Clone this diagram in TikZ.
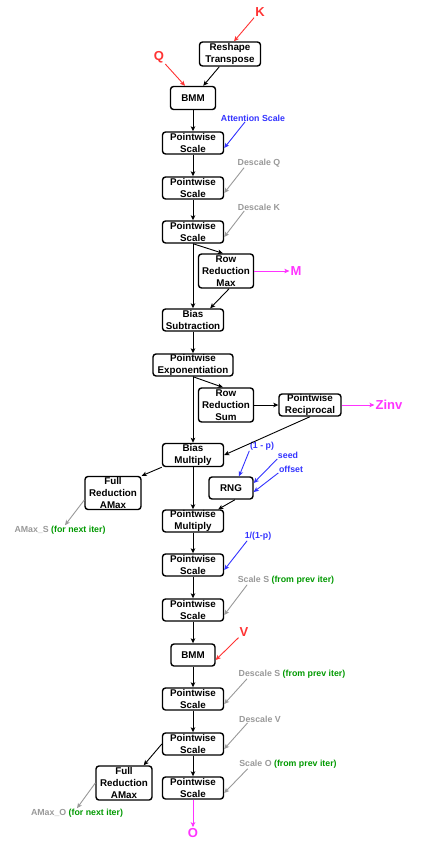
\documentclass[tikz,border=0pt]{standalone}
\usepackage{fontspec}
\setmainfont{Liberation Sans}
\usetikzlibrary{positioning,arrows.meta}
\definecolor{inred}{HTML}{FF3333}
\definecolor{inblue}{HTML}{3333FF}
\definecolor{ingray}{HTML}{999999}
\definecolor{ingreen}{HTML}{009900}
\definecolor{outpink}{HTML}{FF33FF}

\begin{document}
\begin{tikzpicture}[x=1pt,y=1pt,node distance=45pt,on grid,
  op/.style={draw,line width=1.4pt,rounded corners=3pt,fill=white,align=center,
    inner sep=0pt,font=\fontsize{9.8}{11.7}\selectfont\bfseries,
    minimum width=61pt,minimum height=22pt},
  tall/.style={op,minimum width=55pt,minimum height=34pt},
  io/.style={font=\fontsize{13}{15}\selectfont\bfseries,inner sep=1pt},
  note/.style={font=\fontsize{8.8}{10}\selectfont\bfseries,inner sep=0.5pt},
  >={Stealth[length=5pt,width=4.5pt,inset=1.2pt]},
  every edge/.style={draw,line width=0.9pt}]
  \useasboundingbox (0,0) rectangle (434,-846);
  \node[op,minimum width=45pt,minimum height=23pt] (bmm1) at (193,-98) {BMM};
  \node[op,minimum height=24pt] (rt) [above right=44pt and 37pt of bmm1] {Reshape\\Transpose};
  \node[op] (ps1) [below=of bmm1] {Pointwise\\Scale};
  \node[op] (ps2) [below=of ps1] {Pointwise\\Scale};
  \node[op] (ps3) [below=44pt of ps2] {Pointwise\\Scale};
  \node[tall] (rrm) [below right=39pt and 33pt of ps3] {Row\\Reduction\\Max};
  \node[op] (bs) [below=88pt of ps3] {Bias\\Subtraction};
  \node[op,minimum width=80pt] (exp) [below=of bs] {Pointwise\\Exponentiation};
  \node[tall] (rrs) [below right=40pt and 33pt of exp] {Row\\Reduction\\Sum};
  \node[op,minimum width=62pt] (rec) [right=84pt of rrs] {Pointwise\\Reciprocal};
  \node[op,minimum height=23pt] (bm) [below=90pt of exp] {Bias\\Multiply};
  \node[tall,minimum width=56pt,minimum height=33pt] (fra1) [below left=38pt and 80pt of bm] {Full\\Reduction\\AMax};
  \node[op,minimum width=44pt] (rng) [below right=33pt and 38pt of bm] {RNG};
  \node[op] (pm) [below=66pt of bm] {Pointwise\\Multiply};
  \node[op] (ps4) [below=44pt of pm] {Pointwise\\Scale};
  \node[op] (ps5) [below=of ps4] {Pointwise\\Scale};
  \node[op,minimum width=44pt] (bmm2) [below=of ps5] {BMM};
  \node[op] (ps6) [below=44pt of bmm2] {Pointwise\\Scale};
  \node[op] (ps7) [below=of ps6] {Pointwise\\Scale};
  \node[tall,minimum width=56pt] (fra2) [below left=39pt and 69pt of ps7] {Full\\Reduction\\AMax};
  \node[op] (ps8) [below=44pt of ps7] {Pointwise\\Scale};
  % inputs and outputs
  \node[io,text=inred] (k) at (260,-12) {K};
  \node[io,text=inred] (q) at (159,-57) {Q};
  \node[io,text=outpink] (m) [right=70pt of rrm] {M};
  \node[io,text=outpink] (zinv) [right=79pt of rec] {Zinv};
  \node[io,text=inred] (v) at (244,-632) {V};
  \node[io,text=outpink] (o) [below=45pt of ps8] {O};
  % scale factors
  \node[note,text=inblue] (ascale) at (253,-118) {Attention Scale};
  \node[note,text=ingray] (dq) at (259,-163) {Descale Q};
  \node[note,text=ingray] (dk) at (259,-207) {Descale K};
  \node[note,text=inblue] (onep) at (262,-446) {(1 - p)};
  \node[note,text=inblue] (seed) at (288,-455) {seed};
  \node[note,text=inblue] (offset) at (291,-469) {offset};
  \node[note] (amaxs) at (60,-530) {\textcolor{ingray}{AMax\_S} \textcolor{ingreen}{(for next iter)}};
  \node[note,text=inblue] (invp) at (258,-536) {1/(1-p)};
  \node[note] (ss) at (286,-580) {\textcolor{ingray}{Scale S} \textcolor{ingreen}{(from prev iter)}};
  \node[note] (ds) at (292,-674) {\textcolor{ingray}{Descale S} \textcolor{ingreen}{(from prev iter)}};
  \node[note,text=ingray] (dv) at (260,-719) {Descale V};
  \node[note] (so) at (288,-764) {\textcolor{ingray}{Scale O} \textcolor{ingreen}{(from prev iter)}};
  \node[note] (amaxo) at (77,-813) {\textcolor{ingray}{AMax\_O} \textcolor{ingreen}{(for next iter)}};
  \path[->]
  (rt) edge (bmm1)
  (bmm1) edge (ps1)
  (ps1) edge (ps2)
  (ps2) edge (ps3)
  (ps3) edge (bs)
  (ps3.south) edge (rrm.100)
  (rrm.-80) edge ([xshift=-14pt]bs.north east)
  (bs) edge (exp)
  (exp) edge (bm)
  (exp.south) edge (rrs.100)
  (rrs) edge (rec)
  (rec.south) edge (bm.east)
  (bm.south west) edge (fra1.north east)
  (bm) edge (pm)
  ([xshift=4pt]rng.south) edge ([xshift=-6pt]pm.north east)
  (pm) edge (ps4)
  (ps4) edge (ps5)
  (ps5) edge (bmm2)
  (bmm2) edge (ps6)
  (ps6) edge (ps7)
  (ps7) edge (ps8)
  (ps7.west) edge ([xshift=-9pt]fra2.north east)
  ;
  \path[->,inred]
  (k.south west) edge ([xshift=4pt]rt.north)
  (q.south east) edge ([xshift=-8pt]bmm1.north)
  (v.south west) edge ([yshift=-5pt]bmm2.east)
  ;
  \path[->,outpink]
  (rrm) edge (m)
  (rec) edge (zinv)
  (ps8) edge (o)
  ;
  \path[->,inblue]
  ([xshift=-8pt]ascale.south) edge ([yshift=-5pt]ps1.east)
  (onep.south west) edge ([xshift=8pt]rng.north)
  (seed.south west) edge ([yshift=5pt]rng.east)
  (offset.south west) edge ([yshift=-4pt]rng.east)
  ([xshift=3pt]invp.south west) edge ([yshift=-5pt]ps4.east)
  ;
  \path[->,ingray]
  ([xshift=7pt]dq.south west) edge ([yshift=-5pt]ps2.east)
  ([xshift=7pt]dk.south west) edge ([yshift=-5pt]ps3.east)
  ([xshift=10pt]ss.south west) edge ([yshift=-5pt]ps5.east)
  ([xshift=9pt]ds.south west) edge ([yshift=-5pt]ps6.east)
  ([xshift=9pt]dv.south west) edge ([yshift=-5pt]ps7.east)
  ([xshift=9pt]so.south west) edge ([yshift=-5pt]ps8.east)
  ([yshift=-7pt]fra1.west) edge ([xshift=5pt]amaxs.north)
  (fra2.west) edge (amaxo.north)
  ;
\end{tikzpicture}
\end{document}
